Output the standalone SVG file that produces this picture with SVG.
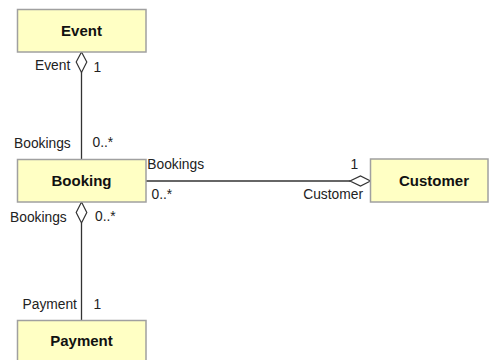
<svg xmlns="http://www.w3.org/2000/svg" width="489" height="360" viewBox="0 0 489 360">
  <style>
    .cls rect { fill: #ffffc4; stroke: #a0a0a0; stroke-width: 1.5; }
    .cls text { font-family: "Liberation Sans", Arial, sans-serif; font-size: 15px; font-weight: bold; fill: #111; text-anchor: middle; }
    .edge line { stroke: #333; stroke-width: 1.3; }
    .edge path { fill: #fff; stroke: #333; stroke-width: 1.2; }
    .lbl { font-family: "Liberation Sans", Arial, sans-serif; font-size: 13.8px; fill: #222; }
  </style>
  <rect width="489" height="360" fill="#fff"/>

  <g class="edge" id="connectors">
    <!-- Event <>— Booking -->
    <line x1="81.5" y1="72" x2="81.5" y2="159"/>
    <path d="M81.5 52 L86.8 62 L81.5 72.5 L76.2 62 Z"/>
    <text class="lbl" x="35" y="70">Event</text>
    <text class="lbl" x="93.5" y="72">1</text>
    <text class="lbl" x="14" y="147.5">Bookings</text>
    <text class="lbl" x="92.5" y="147">0..*</text>

    <!-- Booking —<> Customer -->
    <line x1="146" y1="181" x2="350" y2="181"/>
    <path d="M370.5 181 L360.5 186 L350 181 L360.5 176 Z"/>
    <text class="lbl" x="147.3" y="169">Bookings</text>
    <text class="lbl" x="350.5" y="169">1</text>
    <text class="lbl" x="151.5" y="198.5">0..*</text>
    <text class="lbl" x="363" y="198.5" text-anchor="end">Customer</text>

    <!-- Booking <>— Payment -->
    <line x1="81.5" y1="223" x2="81.5" y2="320"/>
    <path d="M81.5 202 L86.8 212.5 L81.5 223 L76.2 212.5 Z"/>
    <text class="lbl" x="10" y="221.5">Bookings</text>
    <text class="lbl" x="95" y="221">0..*</text>
    <text class="lbl" x="22.5" y="309">Payment</text>
    <text class="lbl" x="93.5" y="309">1</text>
  </g>

  <g class="cls" id="Event">
    <rect x="17.5" y="9.5" width="128.5" height="42.5"/>
    <text x="81.5" y="35.5">Event</text>
  </g>
  <g class="cls" id="Booking">
    <rect x="17.5" y="159.5" width="128.5" height="42.5"/>
    <text x="81.5" y="185.5">Booking</text>
  </g>
  <g class="cls" id="Customer">
    <rect x="370.5" y="159" width="117.5" height="43"/>
    <text x="434" y="185.5">Customer</text>
  </g>
  <g class="cls" id="Payment">
    <rect x="17.5" y="320.5" width="128.5" height="50"/>
    <text x="81.5" y="346">Payment</text>
  </g>
</svg>
